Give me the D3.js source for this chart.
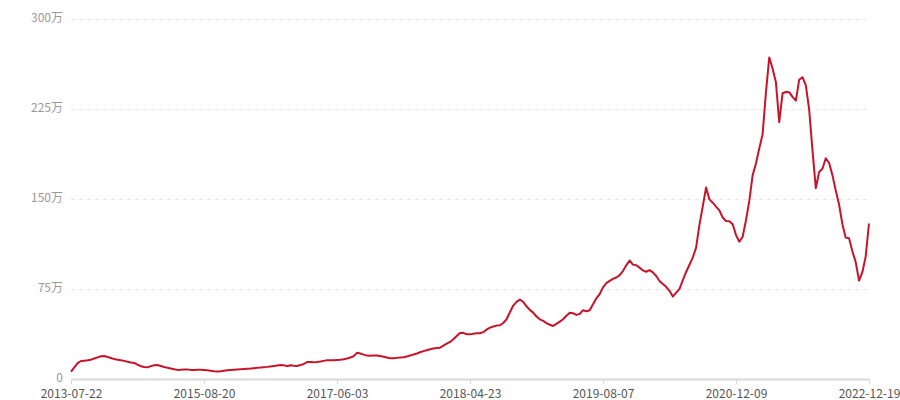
<!DOCTYPE html>
<html>
<head>
<meta charset="utf-8">
<script src="https://cdn.jsdelivr.net/npm/d3@7"></script>
<style>
    html, body { margin: 0; padding: 0; background: #fff; }
    svg text { font-family: "Noto Sans CJK SC", "Microsoft YaHei", sans-serif; }
</style>
</head>
<body>
<div id="chart"></div>
<script>
// Values in 万, one point per period; x is a category index
const values = [
    6.1, 9.7, 13.2, 15.0, 15.3, 15.6, 16.1, 17.1, 18.0, 18.9,
    19.1, 18.3, 17.5, 16.6, 16.1, 15.6, 15.1, 14.4, 13.8, 13.4,
    11.9, 10.7, 10.0, 9.7, 10.7, 11.5, 11.6, 10.8, 10.0, 9.3,
    8.8, 8.2, 7.6, 7.7, 8.0, 7.9, 7.6, 7.6, 7.7, 7.7,
    7.5, 7.2, 6.9, 6.5, 6.2, 6.4, 6.9, 7.3, 7.5, 7.7,
    7.9, 8.1, 8.3, 8.5, 8.7, 9.0, 9.3, 9.5, 9.8, 10.1,
    10.5, 10.9, 11.3, 11.6, 11.5, 10.7, 11.4, 11.1, 10.9, 11.6,
    12.5, 14.1, 14.1, 14.0, 14.1, 14.5, 15.1, 15.6, 15.6, 15.7,
    15.9, 16.1, 16.5, 17.1, 17.9, 19.0, 21.8, 21.2, 20.3, 19.5,
    19.3, 19.6, 19.5, 19.1, 18.6, 17.9, 17.2, 17.2, 17.6, 17.9,
    18.2, 18.8, 19.6, 20.4, 21.3, 22.3, 23.2, 24.0, 24.8, 25.4,
    25.8, 26.1, 27.8, 29.4, 30.9, 33.1, 35.8, 38.4, 38.5, 37.3,
    37.2, 37.7, 38.1, 38.1, 39.1, 41.2, 42.8, 43.8, 44.5, 44.8,
    46.7, 49.8, 55.6, 61.2, 64.3, 66.3, 64.2, 60.6, 57.6, 55.3,
    52.1, 49.7, 48.4, 46.6, 45.2, 44.2, 45.9, 47.8, 49.8, 52.7,
    55.2, 54.8, 53.4, 54.3, 57.3, 56.4, 57.3, 62.3, 67.2, 70.7,
    76.4, 79.9, 81.8, 83.4, 84.6, 86.6, 89.9, 94.7, 98.8, 95.3,
    94.8, 92.8, 90.5, 89.4, 90.7, 88.8, 85.8, 81.7, 79.1, 76.8,
    73.5, 68.7, 71.9, 75.1, 82.3, 89.2, 95.2, 101.2, 109.5, 128.4,
    143.8, 159.6, 149.7, 146.9, 143.7, 140.5, 134.6, 131.7, 131.5, 128.9,
    120.0, 114.4, 118.6, 132.3, 148.4, 169.7, 179.6, 192.2, 204.0, 238.7,
    268.0, 258.8, 247.4, 214.0, 238.1, 239.2, 239.0, 235.1, 232.0, 249.3,
    251.5, 244.7, 224.6, 190.7, 159.0, 172.5, 175.2, 184.0, 180.0, 169.9,
    157.1, 145.4, 129.0, 117.8, 117.3, 106.5, 97.4, 82.0, 89.0, 102.0,
    129.6
];

// Category labels shown on the x axis, every 40th point
const tickLabels = ['2013-07-22', '2015-08-20', '2017-06-03', '2018-04-23', '2019-08-07', '2020-12-09', '2022-12-19'];
const tickStep = 40;

const yTicks = [0, 75, 150, 225, 300];

const width = 900, height = 400;
const margin = {top: 19, right: 31, bottom: 21, left: 71};

const svg = d3.select('#chart').append('svg')
    .attr('width', width)
    .attr('height', height);

const x = d3.scaleLinear()
    .domain([0, values.length - 1])
    .range([margin.left, width - margin.right]);

const y = d3.scaleLinear()
    .domain([0, 300])
    .range([height - margin.bottom, margin.top]);

// Dashed horizontal grid lines
svg.append('g')
    .selectAll('line')
    .data(yTicks.filter(d => d > 0))
    .enter()
    .append('line')
    .attr('x1', margin.left)
    .attr('x2', width - margin.right)
    .attr('y1', d => y(d) + 0.5)
    .attr('y2', d => y(d) + 0.5)
    .style('stroke', '#e6e6e6')
    .style('stroke-width', 1)
    .style('stroke-dasharray', '4,4');

// Y labels
svg.append('g')
    .selectAll('text')
    .data(yTicks)
    .enter()
    .append('text')
    .attr('x', margin.left - 8)
    .attr('y', d => y(d) - 1)
    .attr('dy', '0.35em')
    .attr('text-anchor', 'end')
    .style('font-size', '12px')
    .style('fill', '#999')
    .text(d => d === 0 ? '0' : d + '万');

// X axis
const xAxis = d3.axisBottom(x)
    .tickValues(tickLabels.map((d, i) => i * tickStep))
    .tickFormat((d, i) => tickLabels[i])
    .tickSize(5)
    .tickSizeOuter(0);

const axisG = svg.append('g')
    .attr('transform', `translate(0, ${height - margin.bottom})`)
    .call(xAxis);

axisG.select('.domain')
    .style('stroke', '#d9d9d9')
    .style('stroke-width', 2);
axisG.selectAll('.tick line')
    .style('stroke', '#d9d9d9');
axisG.selectAll('.tick text')
    .attr('y', 10)
    .style('font-size', '12px')
    .style('font-family', '"Noto Sans CJK SC", sans-serif')
    .style('fill', '#555');

// Line
const line = d3.line()
    .x((d, i) => x(i))
    .y(d => y(d));

svg.append('path')
    .datum(values)
    .attr('d', line)
    .style('fill', 'none')
    .style('stroke', '#c8142a')
    .style('stroke-width', 2)
    .style('stroke-linejoin', 'round');
</script>
</body>
</html>
